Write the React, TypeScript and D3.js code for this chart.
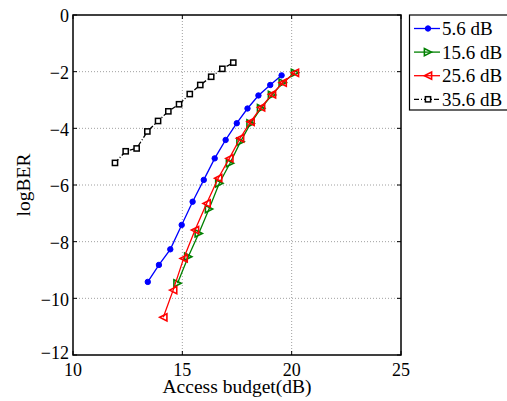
import React from "react";
import * as d3 from "d3";

const xTicks = [10, 15, 20, 25];
const yTicks = [0, -2, -4, -6, -8, -10, -12];

const blueX = [13.42, 13.93, 14.45, 14.97, 15.47, 15.98, 16.48, 16.98, 17.49, 17.98, 18.48, 19.02, 19.54];
const blueY = [-9.42, -8.82, -8.27, -7.41, -6.59, -5.82, -5.06, -4.41, -3.82, -3.30, -2.84, -2.47, -2.13];

const greenX = [14.78, 15.27, 15.75, 16.22, 16.69, 17.18, 17.66, 18.12, 18.60, 19.10, 19.59, 20.15];
const greenY = [-9.47, -8.53, -7.71, -6.85, -5.94, -5.23, -4.47, -3.83, -3.29, -2.82, -2.39, -2.04];

const redX = [14.13, 14.58, 15.06, 15.58, 16.11, 16.64, 17.15, 17.64, 18.12, 18.60, 19.10, 19.59, 20.15];
const redY = [-10.67, -9.71, -8.59, -7.59, -6.65, -5.76, -5.06, -4.35, -3.77, -3.26, -2.80, -2.39, -2.04];

const blackX = [11.92, 12.41, 12.91, 13.40, 13.89, 14.36, 14.85, 15.34, 15.82, 16.32, 16.83, 17.33];
const blackY = [-5.22, -4.81, -4.71, -4.11, -3.74, -3.40, -3.15, -2.79, -2.47, -2.18, -1.90, -1.68];

const seriesNames = ["5.6 dB", "15.6 dB", "25.6 dB", "35.6 dB"];
const seriesColors = ["#0000ff", "#008000", "#ff0000", "#000000"];

type Pt = [number, number];
const zip = (a: number[], b: number[]): Pt[] => a.map((v, i) => [v, b[i]]);

const series = [
  { name: seriesNames[0], color: seriesColors[0], marker: "dot", dash: "", pts: zip(blueX, blueY) },
  { name: seriesNames[1], color: seriesColors[1], marker: "right", dash: "", pts: zip(greenX, greenY) },
  { name: seriesNames[2], color: seriesColors[2], marker: "left", dash: "", pts: zip(redX, redY) },
  { name: seriesNames[3], color: seriesColors[3], marker: "square", dash: "5,2,1,2", pts: zip(blackX, blackY) },
];

const FONT = "Liberation Serif, Times New Roman, DejaVu Serif, serif";

function Marker({ kind, x, y, color }: { kind: string; x: number; y: number; color: string }) {
  if (kind === "dot") return <circle cx={x} cy={y} r={2.7} fill={color} stroke={color} />;
  if (kind === "square")
    return <rect x={x - 2.6} y={y - 2.6} width={5.2} height={5.2} fill="white" stroke={color} strokeWidth={1.5} />;
  const s = 3.6;
  const p =
    kind === "right"
      ? `${x + s},${y} ${x - s},${y - s} ${x - s},${y + s}`
      : `${x - s},${y} ${x + s},${y - s} ${x + s},${y + s}`;
  return <polygon points={p} fill="none" stroke={color} strokeWidth={1.6} />;
}

export default function App() {
  const W = 507, H = 401;
  const L = 73, R = 401, T = 15, B = 355;
  const x = d3.scaleLinear().domain([10, 25]).range([L, R]);
  const y = d3.scaleLinear().domain([-12, 0]).range([B, T]);
  const line = d3.line<Pt>().x((d) => x(d[0])).y((d) => y(d[1]));
  const ts = { fontFamily: FONT };

  return (
    <svg width={W} height={H} style={{ position: "absolute", left: 0, top: 0, background: "white", fontFamily: FONT }}>
      <rect x={0} y={0} width={W} height={H} fill="white" />
      {xTicks.slice(1, -1).map((t) => (
        <line key={"gx" + t} x1={x(t)} x2={x(t)} y1={T} y2={B} stroke="#888" strokeWidth={0.8} strokeDasharray="1,2" />
      ))}
      {yTicks.slice(1, -1).map((t) => (
        <line key={"gy" + t} x1={L} x2={R} y1={y(t)} y2={y(t)} stroke="#888" strokeWidth={0.8} strokeDasharray="1,2" />
      ))}
      {xTicks.map((t) => (
        <g key={"tx" + t}>
          <line x1={x(t)} x2={x(t)} y1={B} y2={B - 4} stroke="black" />
          <line x1={x(t)} x2={x(t)} y1={T} y2={T + 4} stroke="black" />
          <text x={x(t)} y={376} fontSize={18} textAnchor="middle" style={ts}>{t}</text>
        </g>
      ))}
      {yTicks.map((t) => (
        <g key={"ty" + t}>
          <line x1={L} x2={L + 4} y1={y(t)} y2={y(t)} stroke="black" />
          <line x1={R} x2={R - 4} y1={y(t)} y2={y(t)} stroke="black" />
          <text x={69} y={y(t) + (t === -12 ? -2 : 1)} dy="0.35em" fontSize={18} textAnchor="end" style={ts}>{t < 0 ? "\u2212" + Math.abs(t) : t}</text>
        </g>
      ))}
      {series.map((s) => (
        <g key={s.name}>
          <path d={line(s.pts) || ""} fill="none" stroke={s.color} strokeWidth={1.3} strokeDasharray={s.dash || undefined} />
          {s.pts.map((p, i) => (
            <Marker key={i} kind={s.marker} x={x(p[0])} y={y(p[1])} color={s.color} />
          ))}
        </g>
      ))}
      <rect x={L} y={T} width={R - L} height={B - T} fill="none" stroke="black" strokeWidth={1.5} />
      <text x={(L + R) / 2} y={393} fontSize={19.5} textAnchor="middle" style={ts}>Access budget(dB)</text>
      <text transform={`translate(30,${(T + B) / 2}) rotate(-90)`} fontSize={19.5} textAnchor="middle" style={ts}>logBER</text>
      <rect x={409.5} y={15} width={110} height={95} fill="white" stroke="black" strokeWidth={1.2} />
      {series.map((s, i) => {
        const ly = 28.5 + i * 23.6;
        return (
          <g key={"lg" + s.name}>
            <line x1={414} x2={440} y1={ly} y2={ly} stroke={s.color} strokeWidth={1.3} strokeDasharray={s.dash || undefined} />
            <Marker kind={s.marker} x={428} y={ly} color={s.color} />
            <text x={442} y={ly} dy="0.35em" fontSize={19} style={ts}>{s.name}</text>
          </g>
        );
      })}
    </svg>
  );
}
